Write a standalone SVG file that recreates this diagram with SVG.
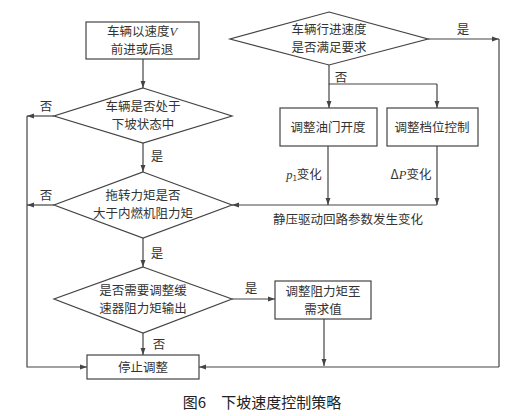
<svg xmlns="http://www.w3.org/2000/svg" width="519" height="416" viewBox="0 0 519 416">
<style>
.s{fill:#fff;stroke:#444;stroke-width:1.2}
.l{fill:none;stroke:#444;stroke-width:1.2}
.t{font-family:"Noto Sans CJK SC","Liberation Serif",serif;font-size:12.5px;fill:#333;text-anchor:middle}
.i{font-family:"Liberation Serif",serif;font-style:italic}
.c{font-family:"Noto Sans CJK SC","Liberation Sans",sans-serif;font-size:15px;fill:#222;text-anchor:middle}
</style>
<defs>
<marker id="a" viewBox="0 0 10 10" refX="10" refY="5" markerWidth="7" markerHeight="7" orient="auto" markerUnits="userSpaceOnUse">
<path d="M0,1.5 L10,5 L0,8.5 Z" fill="#444"/>
</marker>
</defs>
<g id="connectors">
<path class="l" d="M143,59 V88" marker-end="url(#a)"/>
<path class="l" d="M143,143 V172" marker-end="url(#a)"/>
<path class="l" d="M143,238 V267" marker-end="url(#a)"/>
<path class="l" d="M143,333 V355" marker-end="url(#a)"/>
<path class="l" d="M54,116 H27" marker-end="url(#a)"/>
<path class="l" d="M54,205 H27" marker-end="url(#a)"/>
<path class="l" d="M27,116 V367 H87" marker-end="url(#a)"/>
<path class="l" d="M232,299 H275" marker-end="url(#a)"/>
<path class="l" d="M324,319 V366" marker-end="url(#a)"/>
<path class="l" d="M499,367 H199" marker-end="url(#a)"/>
<path class="l" d="M428,39 H499" marker-end="url(#a)"/>
<path class="l" d="M499,39 V367"/>
<path class="l" d="M329,65 V84 H437"/>
<path class="l" d="M329,84 V108" marker-end="url(#a)"/>
<path class="l" d="M437,84 V108" marker-end="url(#a)"/>
<path class="l" d="M328,146 V205" marker-end="url(#a)"/>
<path class="l" d="M437,146 V205" marker-end="url(#a)"/>
<path class="l" d="M437,205 H232" marker-end="url(#a)"/>
<text class="t" x="46" y="111">否</text>
<text class="t" x="46" y="200">否</text>
<text class="t" x="157" y="161">是</text>
<text class="t" x="157" y="258">是</text>
<text class="t" x="159" y="349">否</text>
<text class="t" x="251" y="293">是</text>
<text class="t" x="463" y="34">是</text>
<text class="t" x="341" y="82">否</text>
<text class="t" x="304" y="179"><tspan class="i">p</tspan><tspan font-size="8" dy="2">1</tspan><tspan dy="-2">变化</tspan></text>
<text class="t" x="411" y="179">Δ<tspan class="i">P</tspan>变化</text>
<text class="t" x="348" y="224">静压驱动回路参数发生变化</text>
</g>
<g id="start">
<rect class="s" x="86" y="22" width="113" height="37"/>
<text class="t" x="142" y="36">车辆以速度<tspan class="i">V</tspan></text>
<text class="t" x="142" y="54">前进或后退</text>
</g>
<g id="d1">
<polygon class="s" points="143,88 232,116 143,143 54,116"/>
<text class="t" x="143" y="111">车辆是否处于</text>
<text class="t" x="143" y="129">下坡状态中</text>
</g>
<g id="d2">
<polygon class="s" points="143,172 232,205 143,238 54,205"/>
<text class="t" x="143" y="200">拖转力矩是否</text>
<text class="t" x="143" y="218">大于内燃机阻力矩</text>
</g>
<g id="d3">
<polygon class="s" points="143,267 232,299 143,333 54,299"/>
<text class="t" x="143" y="295">是否需要调整缓</text>
<text class="t" x="143" y="313">速器阻力矩输出</text>
</g>
<g id="stop">
<rect class="s" x="87" y="355" width="112" height="24"/>
<text class="t" x="143" y="372">停止调整</text>
</g>
<g id="adjust">
<rect class="s" x="275" y="281" width="96" height="38"/>
<text class="t" x="323" y="296">调整阻力矩至</text>
<text class="t" x="323" y="314">需求值</text>
</g>
<g id="dtop">
<polygon class="s" points="329,12 428,39 329,65 230,39"/>
<text class="t" x="329" y="34">车辆行进速度</text>
<text class="t" x="329" y="52">是否满足要求</text>
</g>
<g id="throttle">
<rect class="s" x="280" y="108" width="97" height="38"/>
<text class="t" x="328" y="132">调整油门开度</text>
</g>
<g id="gear">
<rect class="s" x="387" y="108" width="91" height="38"/>
<text class="t" x="432" y="132">调整档位控制</text>
</g>
<text class="c" x="262" y="408">图6　下坡速度控制策略</text>
</svg>
